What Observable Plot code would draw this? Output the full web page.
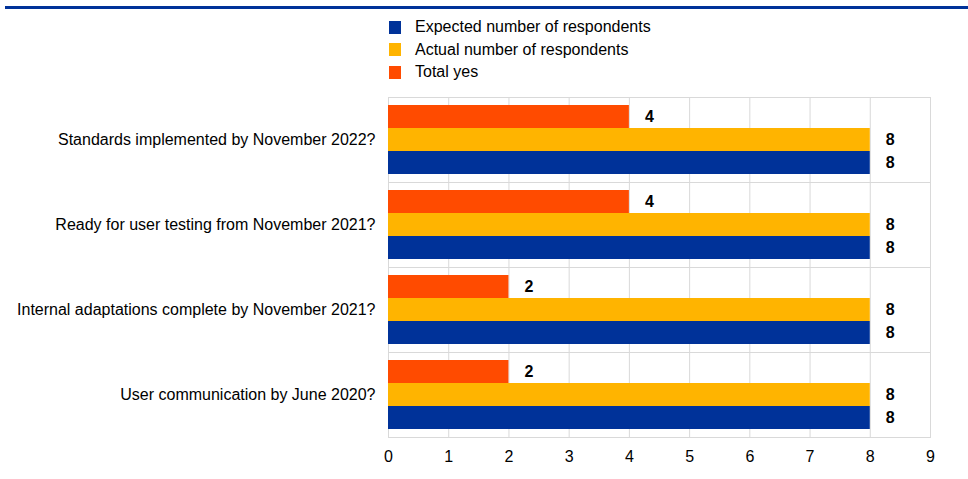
<!DOCTYPE html>
<html>
<head>
<meta charset="utf-8">
<script src="https://cdn.jsdelivr.net/npm/d3@7"></script>
<script src="https://cdn.jsdelivr.net/npm/@observablehq/plot@0.6"></script>
<style>
  body { margin: 0; background: #fff; font-family: "Liberation Sans", Arial, sans-serif; }
  #topline { position: absolute; left: 5px; right: 0; top: 6px; height: 3px; background: #003299; }
  #legend { position: absolute; left: 389px; top: 16px; font-size: 16px; color: #000; }
  .item { display: flex; align-items: center; height: 22.5px; }
  .sw { width: 12px; height: 13px; margin-right: 14px; }
  #chart { position: absolute; left: 0; top: 90px; }
</style>
</head>
<body>
<div id="topline"></div>
<div id="legend"></div>
<div id="chart"></div>
<script>
const questions = [
  "Standards implemented by November 2022?",
  "Ready for user testing from November 2021?",
  "Internal adaptations complete by November 2021?",
  "User communication by June 2020?"
];
const seriesNames = ["Total yes", "Actual number of respondents", "Expected number of respondents"];
const legendOrder = ["Expected number of respondents", "Actual number of respondents", "Total yes"];
const seriesColors = ["#FF4B00", "#FFB400", "#003299"];
const totalYes = [4, 4, 2, 2];
const actual = [8, 8, 8, 8];
const expected = [8, 8, 8, 8];
const xTicks = [0, 1, 2, 3, 4, 5, 6, 7, 8, 9];

const valuesBySeries = [totalYes, actual, expected];
const data = [];
questions.forEach((q, i) => {
  seriesNames.forEach((s, j) => {
    data.push({question: q, series: s, value: valuesBySeries[j][i]});
  });
});

const legend = document.getElementById("legend");
legendOrder.forEach(name => {
  const c = seriesColors[seriesNames.indexOf(name)];
  const div = document.createElement("div");
  div.className = "item";
  div.innerHTML = `<span class="sw" style="background:${c}"></span><span>${name}</span>`;
  legend.appendChild(div);
});

const chart = Plot.plot({
  width: 968,
  height: 389,
  marginLeft: 388,
  marginRight: 38,
  marginTop: 7,
  marginBottom: 42,
  style: {fontFamily: "'Liberation Sans', Arial, sans-serif", fontSize: "16px", color: "#000", background: "#fff"},
  x: {domain: [0, 9]},
  fy: {domain: questions, padding: 0, label: null},
  y: {domain: seriesNames, paddingInner: 0, paddingOuter: 0.33, axis: null},
  color: {domain: seriesNames, range: seriesColors},
  marks: [
    Plot.gridX({ticks: xTicks, stroke: "#d9d9d9", strokeOpacity: 1}),
    Plot.frame({stroke: "#d9d9d9"}),
    Plot.barX(data, {x: "value", y: "series", fy: "question", fill: "series"}),
    Plot.text(data, {x: "value", y: "series", fy: "question", text: d => String(d.value), dx: 20, fontWeight: "bold", fontSize: 16, fill: "#000"}),
    Plot.axisX({ticks: xTicks, tickSize: 0, tickPadding: 13, label: null, fontSize: 16}),
    Plot.axisFy({anchor: "left", tickSize: 0, tickPadding: 13, label: null, fontSize: 16})
  ]
});
document.getElementById("chart").appendChild(chart);
</script>
</body>
</html>
